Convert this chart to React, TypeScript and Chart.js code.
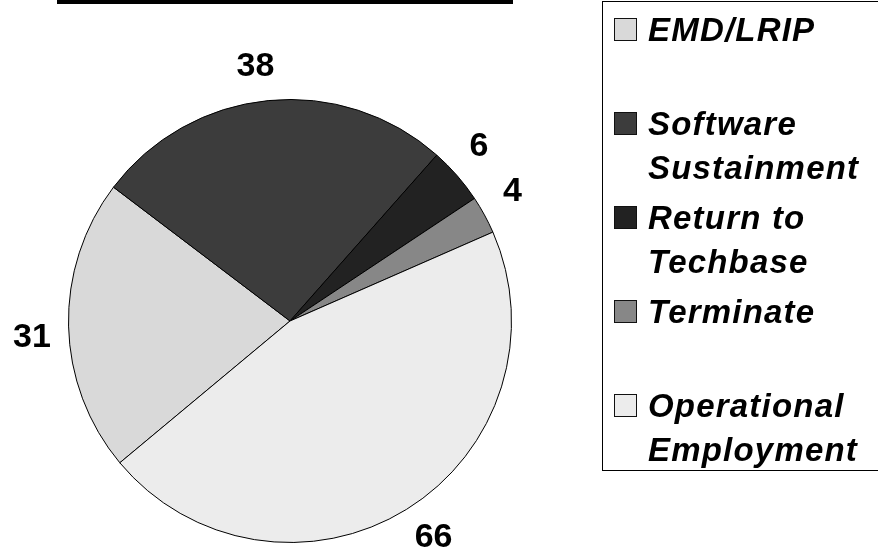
import React, { useEffect, useRef } from "react";
import { Chart, registerables } from "chart.js";

Chart.register(...registerables);

const categories: string[][] = [
  ["EMD/LRIP"],
  ["Software", "Sustainment"],
  ["Return to", "Techbase"],
  ["Terminate"],
  ["Operational", "Employment"],
];
const values: number[] = [31, 38, 6, 4, 66];
const sliceColors: string[] = ["#d9d9d9", "#3c3c3c", "#222222", "#878787", "#ececec"];

const FONT = "'Liberation Sans', Arial, Helvetica, sans-serif";

const decorPlugin = {
  id: "decor",
  afterDatasetsDraw(chart: any) {
    const ctx = chart.ctx as CanvasRenderingContext2D;
    ctx.save();
    // top rule
    ctx.fillStyle = "#000";
    ctx.fillRect(57, 0, 456, 4);

    // value labels outside slices
    const meta = chart.getDatasetMeta(0);
    const ds = chart.data.datasets[0];
    ctx.font = `bold 34px ${FONT}`;
    ctx.textAlign = "center";
    ctx.textBaseline = "middle";
    ctx.fillStyle = "#000";
    const shift = (-2 * Math.PI) / 180;
    meta.data.forEach((arc: any, i: number) => {
      const { x, y, startAngle, endAngle, outerRadius } = arc.getProps(
        ["x", "y", "startAngle", "endAngle", "outerRadius"],
        true
      );
      const mid = (startAngle + endAngle) / 2 + shift;
      const r = outerRadius + 37;
      ctx.fillText(String(ds.data[i]), x + Math.cos(mid) * r, y + Math.sin(mid) * r + 2);
    });

    // legend box
    ctx.strokeStyle = "#000";
    ctx.lineWidth = 1;
    ctx.strokeRect(602.5, 1.5, 300, 469);
    const labels = chart.data.labels as string[][];
    ctx.textAlign = "left";
    ctx.textBaseline = "alphabetic";
    ctx.font = `italic bold 33px ${FONT}`;
    (ctx as any).letterSpacing = "1.2px";
    labels.forEach((lines, i) => {
      const top = 18 + i * 94;
      ctx.fillStyle = ds.backgroundColor[i];
      ctx.fillRect(614, top, 23, 23);
      ctx.strokeStyle = "#111";
      ctx.strokeRect(614.5, top + 0.5, 22, 22);
      ctx.fillStyle = "#000";
      lines.forEach((ln, j) => {
        ctx.fillText(ln, 648, top + 23 + j * 44);
      });
    });
    ctx.restore();
  },
};

export default function App() {
  const ref = useRef<HTMLCanvasElement | null>(null);
  useEffect(() => {
    if (!ref.current) return;
    const chart = new Chart(ref.current, {
      type: "pie",
      data: {
        labels: categories as any,
        datasets: [
          {
            data: values,
            backgroundColor: sliceColors,
            borderColor: "#000",
            borderWidth: 1,
          },
        ],
      },
      options: {
        responsive: false,
        animation: false,
        rotation: 230.2,
        layout: { padding: { top: 99, bottom: 17, left: 0, right: 298 } },
        plugins: {
          legend: { display: false },
          tooltip: { enabled: false },
        },
      },
      plugins: [decorPlugin],
    });
    return () => chart.destroy();
  }, []);
  return (
    <div style={{ position: "absolute", left: 0, top: 0, width: 878, height: 560, background: "#fff" }}>
      <canvas ref={ref} width={878} height={560} />
    </div>
  );
}
